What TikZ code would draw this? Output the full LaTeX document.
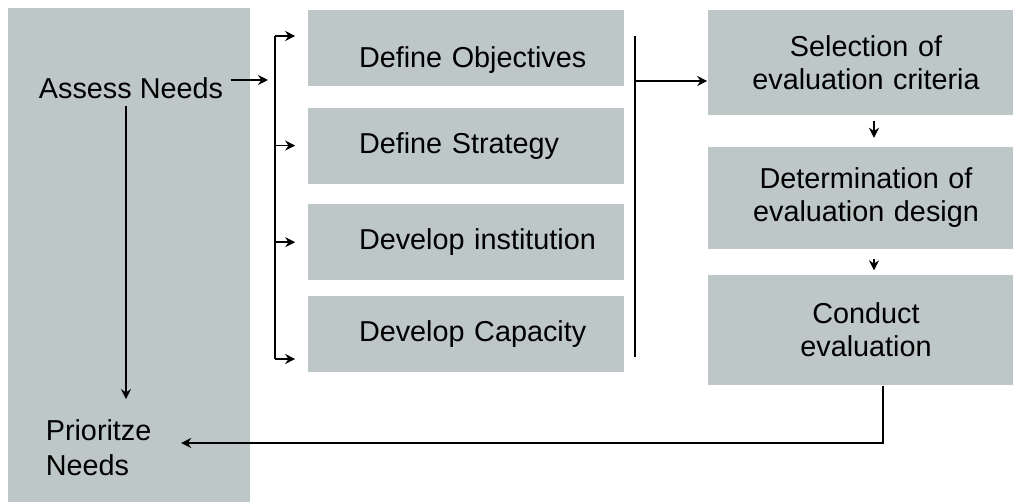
\documentclass[tikz,border=0pt]{standalone}
\usepackage{fontspec}
\setmainfont{Liberation Sans}
\usepackage{xcolor}
\usetikzlibrary{shapes,arrows,arrows.meta,positioning}

\definecolor{panel}{RGB}{189,199,199}

\begin{document}
\begin{tikzpicture}[x=0.5pt, y=-0.5pt, thick, font=\fontsize{14.4}{16.5}\selectfont]
    % Styles
    \tikzstyle{column}=[rectangle, fill=panel, minimum width=121pt, minimum height=249pt, inner sep=0pt]
    \tikzstyle{task}=[rectangle, fill=panel, minimum width=158pt, minimum height=38pt, text width=107pt, inner xsep=25.5pt, align=left, execute at begin node={\hyphenpenalty=10000 \hbadness=10000 \hfuzz=40pt}]
    \tikzstyle{evalbox}=[rectangle, fill=panel, minimum width=158pt, minimum height=51pt, text width=150pt, inner xsep=4pt, align=center]
    \tikzstyle{arrow}=[-{Stealth[length=5pt, width=5pt]}, line width=0.8pt]
    \tikzstyle{bar}=[line width=1.3pt]

    \useasboundingbox (0,0) rectangle (1013,502);

    % Colonna sinistra
    \node (needs) [column] at (129,257) {};
    \node (assess) at (131,88) {Assess Needs};
    \node (prior) [anchor=west, inner sep=0pt, align=left, font=\fontsize{14.4}{17.5}\selectfont] at (45,448) {Prioritze\\Needs};

    % Attivita
    \node (obj) [task, text height=20pt, text depth=0pt, minimum height=38pt] at (466,48) {Define~Objectives};
    \node (strat) [task, below=10pt of obj] {Define~Strategy};
    \node (inst) [task, below=9.5pt of strat] {Develop~institution};
    \node (cap) [task, below=7pt of inst] {Develop~Capacity};

    % Valutazione
    \node (sel) [evalbox, minimum height=52.5pt] at (866,62.5) {Selection of\\evaluation criteria};
    \node (design) [evalbox, below=15pt of sel] {Determination of\\evaluation design};
    \node (cond) [evalbox, minimum height=55pt, below=12.5pt of design] {Conduct\\evaluation};

    % Parentesi
    \coordinate (lbtop) at (275,36);
    \coordinate (lbbot) at (275,359);
    \coordinate (lbin) at (275,80);
    \coordinate (rbtop) at (635,36);
    \coordinate (rbbot) at (635,357);
    \coordinate (rbout) at (635,81);

    % Collegamenti
    \draw [arrow, shorten >=3.5pt] ([yshift=4pt]assess.east) -- (lbin);
    \draw [arrow, shorten >=10pt] ([xshift=-2.5pt]assess.south) -- ([xshift=-2.5pt]assess.south |- prior.north);
    \draw [bar] (lbtop) -- (lbbot);
    \draw [arrow, shorten >=6pt] (lbtop) -- (obj.west |- lbtop);
    \draw [arrow, shorten >=6pt] (lbtop |- strat.west) -- (strat.west);
    \draw [arrow, shorten >=6pt] (lbtop |- inst.west) -- (inst.west);
    \draw [arrow, shorten >=6pt] (lbbot) -- (cap.west |- lbbot);
    \draw [bar] (rbtop) -- (rbbot);
    \draw [arrow] (rbout) -- (sel.west |- rbout);
    \draw [arrow, shorten <=2.5pt, shorten >=4pt] ([xshift=4pt]sel.south) -- ([xshift=4pt]design.north);
    \draw [arrow, shorten <=5pt, shorten >=2pt] ([xshift=4pt]design.south) -- ([xshift=4pt]cond.north);
    \draw [arrow, shorten >=14.5pt] ([xshift=8.5pt]cond.south) |- ([yshift=2.5pt]prior.east);

\end{tikzpicture}
\end{document}
